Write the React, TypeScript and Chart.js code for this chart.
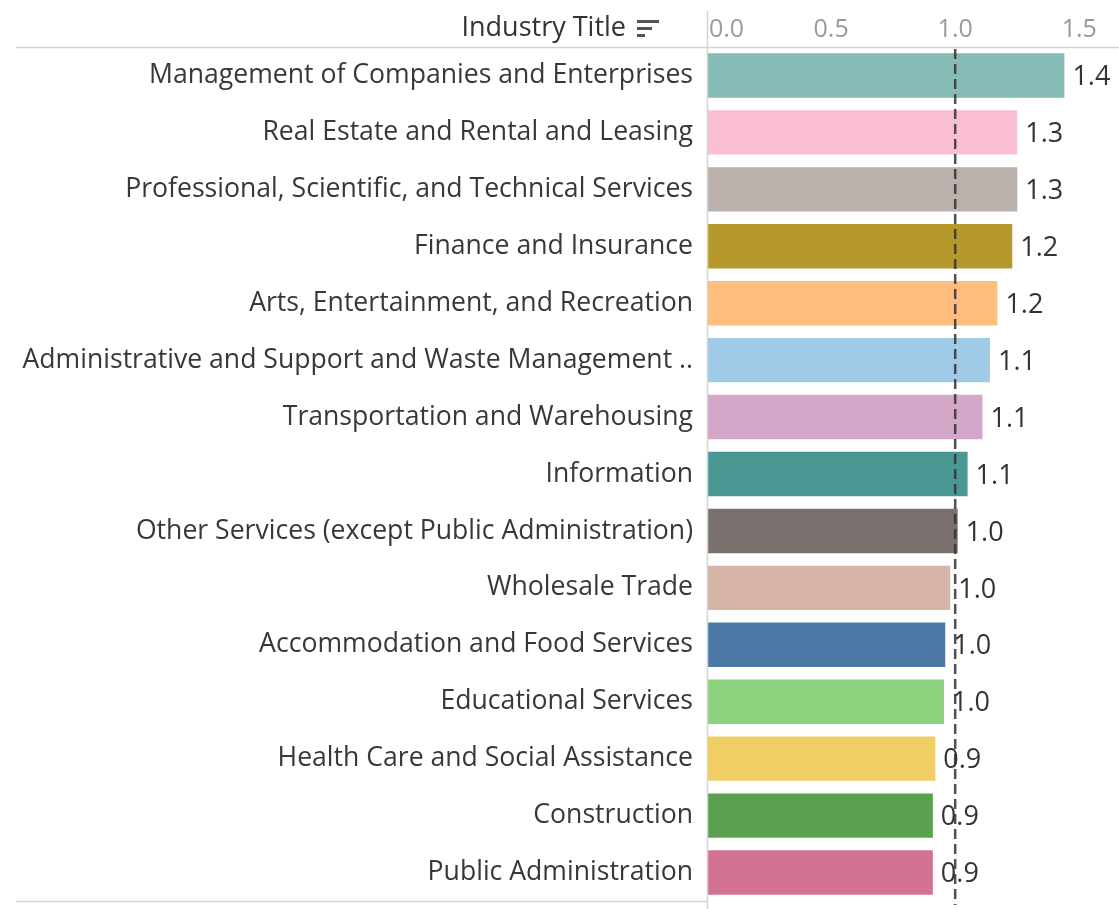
import React, { useEffect, useRef } from "react";
import { Chart, registerables } from "chart.js";

Chart.register(...registerables);

const categories = [
  "Management of Companies and Enterprises",
  "Real Estate and Rental and Leasing",
  "Professional, Scientific, and Technical Services",
  "Finance and Insurance",
  "Arts, Entertainment, and Recreation",
  "Administrative and Support and Waste Management and Remediation Services",
  "Transportation and Warehousing",
  "Information",
  "Other Services (except Public Administration)",
  "Wholesale Trade",
  "Accommodation and Food Services",
  "Educational Services",
  "Health Care and Social Assistance",
  "Construction",
  "Public Administration",
];

const values = [1.44, 1.25, 1.25, 1.23, 1.17, 1.14, 1.11, 1.05, 1.01, 0.98, 0.96, 0.955, 0.92, 0.91, 0.91];

const barColors = [
  "#86BCB6", "#FABFD2", "#BAB0AC", "#B6992D", "#FFBE7D",
  "#A0CBE8", "#D4A6C8", "#499894", "#79706E", "#D7B5A6",
  "#4E79A7", "#8CD17D", "#F1CE63", "#59A14F", "#D37295",
];

const xTickValues = [0, 0.5, 1.0, 1.5];
const referenceValue = 1.0;
const headerTitle = "Industry Title";

const FONT = "'Open Sans', 'Noto Sans', sans-serif";

function truncate(label: string): string {
  return label.length > 50 ? label.slice(0, 47) + " .." : label;
}

const decorPlugin = {
  id: "decor",
  afterDatasetsDraw(chart: any) {
    const { ctx, chartArea, scales } = chart;
    const xs = scales.x;
    ctx.save();
    // frame lines
    ctx.strokeStyle = "#d4d4d4";
    ctx.lineWidth = 1.5;
    ctx.beginPath();
    ctx.moveTo(16, chartArea.top + 0.5);
    ctx.lineTo(chart.width, chartArea.top + 0.5);
    ctx.moveTo(16, chartArea.bottom + 0.5);
    ctx.lineTo(chartArea.left, chartArea.bottom + 0.5);
    ctx.moveTo(chartArea.left + 0.5, 11);
    ctx.lineTo(chartArea.left + 0.5, chart.height);
    ctx.stroke();

    // reference line
    const rx = xs.getPixelForValue(referenceValue);
    ctx.strokeStyle = "rgba(50,50,50,0.85)";
    ctx.lineWidth = 2.5;
    ctx.setLineDash([10, 5]);
    ctx.beginPath();
    ctx.moveTo(rx, chartArea.top + 2);
    ctx.lineTo(rx, chart.height - 4);
    ctx.stroke();
    ctx.setLineDash([]);

    // value labels
    const meta = chart.getDatasetMeta(0);
    ctx.fillStyle = "#333";
    ctx.font = `27px ${FONT}`;
    ctx.textAlign = "left";
    ctx.textBaseline = "middle";
    meta.data.forEach((el: any, i: number) => {
      ctx.fillText(values[i].toFixed(1), el.x + 8, el.y + 2);
    });

    // x tick labels
    ctx.fillStyle = "#9a9a9a";
    ctx.font = `25px ${FONT}`;
    xTickValues.forEach((v) => {
      const px = xs.getPixelForValue(v);
      ctx.textAlign = v === 0 ? "left" : "center";
      ctx.fillText(v.toFixed(1), v === 0 ? px + 2 : px, 30);
    });

    // header title
    ctx.fillStyle = "#333";
    ctx.font = `27px ${FONT}`;
    ctx.textAlign = "right";
    ctx.fillText(headerTitle, 626, 28);
    // sort icon
    ctx.fillStyle = "#555";
    const ix = 637;
    ctx.fillRect(ix, 20, 22, 3);
    ctx.fillRect(ix, 27, 15, 3);
    ctx.fillRect(ix, 34, 8, 3);
    ctx.restore();
  },
};

export default function App() {
  const canvasRef = useRef<HTMLCanvasElement | null>(null);

  useEffect(() => {
    const canvas = canvasRef.current;
    if (!canvas) return;
    const chart = new Chart(canvas, {
      type: "bar",
      data: {
        labels: categories.map(truncate),
        datasets: [
          {
            data: values,
            backgroundColor: barColors,
            borderWidth: 0,
            barPercentage: 0.78,
            categoryPercentage: 1,
          },
        ],
      },
      options: {
        indexAxis: "y",
        animation: false,
        responsive: true,
        maintainAspectRatio: false,
        layout: { padding: { top: 0, bottom: 8, left: 0, right: 0 } },
        plugins: {
          legend: { display: false },
          tooltip: { enabled: false },
        },
        scales: {
          x: {
            position: "top",
            min: 0,
            max: 1.66,
            grid: { display: false },
            border: { display: false },
            ticks: { display: false },
            afterFit: (scale: any) => {
              scale.height = 47;
              scale.paddingLeft = 0;
              scale.paddingRight = 0;
            },
          },
          y: {
            grid: { display: false },
            border: { display: false },
            ticks: {
              color: "#383838",
              padding: 6,
              font: { family: FONT, size: 26.6 },
            },
            afterFit: (scale: any) => {
              scale.width = 707;
              scale.paddingTop = 0;
              scale.paddingBottom = 0;
            },
          },
        },
      },
      plugins: [decorPlugin],
    });
    return () => chart.destroy();
  }, []);

  return (
    <div style={{ position: "fixed", left: 0, top: 0, width: 1119, height: 909, background: "#fff" }}>
      <canvas ref={canvasRef} />
    </div>
  );
}
